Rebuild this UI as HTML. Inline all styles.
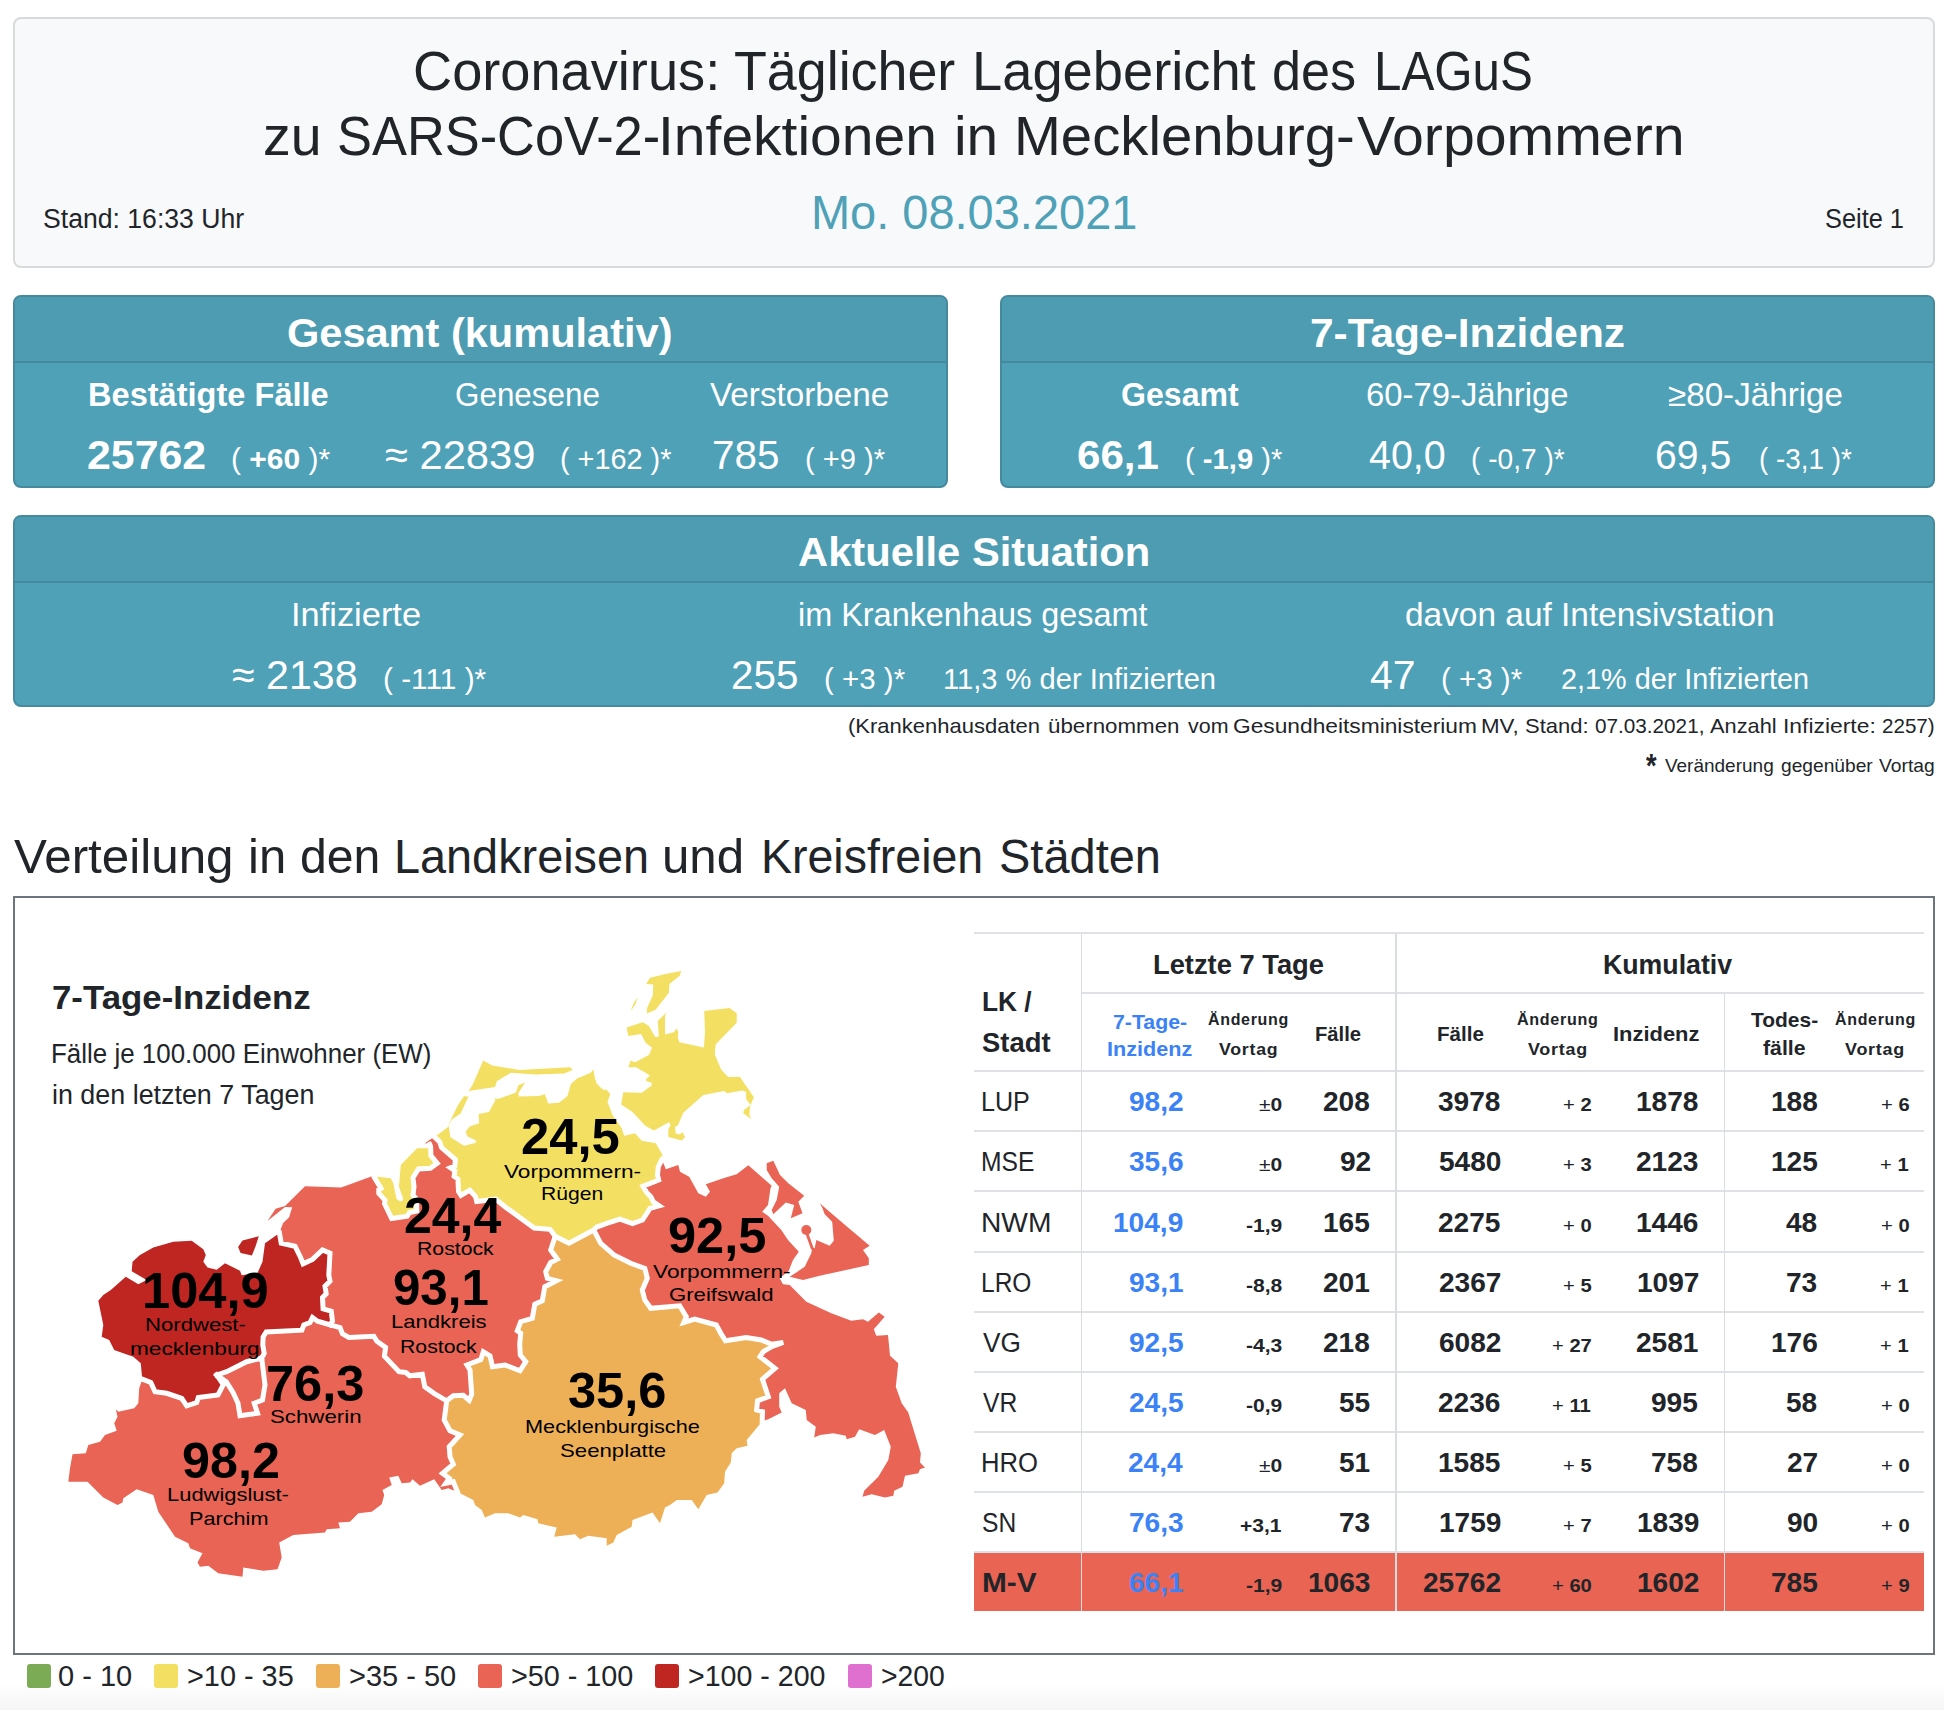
<!DOCTYPE html>
<html lang="de"><head><meta charset="utf-8"><title>Coronavirus: Täglicher Lagebericht des LAGuS</title>
<style>
html,body{margin:0;padding:0}
body{width:1944px;height:1710px;position:relative;overflow:hidden;background:#fff;font-family:"Liberation Sans", sans-serif;color:#212529}
.t{position:absolute;white-space:nowrap;line-height:1;transform-origin:0 0}
.abs{position:absolute;box-sizing:border-box}
.map{position:absolute;left:40px;top:940px}
.map text{font-family:"Liberation Sans", sans-serif;fill:#000}

.hdr{left:13px;top:17px;width:1921.5px;height:250.5px;background:#f8f9fa;border:2px solid #d9dadc;border-radius:8px}
.pan{background:#4fa1b7;border:2px solid #44899c;border-radius:8px;height:192.5px;overflow:hidden}
.pan i{display:block;height:64px;background:#4d9cb1;border-bottom:2px solid #44899c}
.mapbox{left:13px;top:895.5px;width:1921.5px;height:759px;border:2px solid #6c757d;background:#fff}
.hl{position:absolute;height:2px;background:#dee2e6}
.vl{position:absolute;width:1.5px;background:#d9dce0}
.sq{position:absolute;width:24px;height:24px;top:1664px;border-radius:3px}
.mv{position:absolute;left:973.7px;top:1553px;width:950.3px;height:57.5px;background:#e96453}
.fade{position:absolute;left:0;top:1684px;width:1944px;height:26px;background:linear-gradient(#fff,#f5f5f5)}

</style></head><body>
<div class="fade"></div>
<div class="abs hdr"></div>
<div class="abs pan" style="left:13px;top:295px;width:935px"><i></i></div>
<div class="abs pan" style="left:999.5px;top:295px;width:935px"><i></i></div>
<div class="abs pan" style="left:13px;top:514.7px;width:1921.5px"><i></i></div>
<div class="abs mapbox"></div>
<div class="mv"></div>
<div class="hl" style="left:973.7px;top:932px;width:950.3px"></div>
<div class="hl" style="left:1081px;top:992px;width:843px"></div>
<div class="hl" style="left:973.7px;top:1070.2px;width:950.3px"></div>
<div class="hl" style="left:973.7px;top:1130.3px;width:950.3px"></div>
<div class="hl" style="left:973.7px;top:1190.4px;width:950.3px"></div>
<div class="hl" style="left:973.7px;top:1250.5px;width:950.3px"></div>
<div class="hl" style="left:973.7px;top:1310.6px;width:950.3px"></div>
<div class="hl" style="left:973.7px;top:1370.7px;width:950.3px"></div>
<div class="hl" style="left:973.7px;top:1430.8px;width:950.3px"></div>
<div class="hl" style="left:973.7px;top:1490.9px;width:950.3px"></div>
<div class="hl" style="left:973.7px;top:1551.0px;width:950.3px"></div>
<div class="vl" style="left:1080.5px;top:934px;height:676.5px"></div>
<div class="vl" style="left:1395px;top:934px;height:676.5px"></div>
<div class="vl" style="left:1723.5px;top:994px;height:616.5px"></div>
<div class="sq" style="left:27px;background:#7bab55"></div>
<div class="sq" style="left:154px;background:#f3e062"></div>
<div class="sq" style="left:316px;background:#eeb057"></div>
<div class="sq" style="left:478px;background:#e96454"></div>
<div class="sq" style="left:655px;background:#bf2622"></div>
<div class="sq" style="left:847.5px;background:#e070d0"></div>
<svg class="map" width="920" height="680" viewBox="40 940 920 680">
<path fill="#e96454" d="M142.2,1379.7 139.2,1388.3 138.3,1403.3 134.2,1408.3 118.3,1411.7 115.8,1409.2 117.5,1416.7 114.2,1423.3 116.7,1430.8 105,1435 100,1441.7 88.3,1445 85.8,1453.3 72.5,1454.2 70,1468.3 68.3,1481.7 87.5,1481.7 103.3,1497.5 117.5,1505 122.5,1502.5 123.3,1498.3 136.7,1489.2 153.3,1495 158.3,1511.7 175,1536.7 188.3,1543.3 190,1548.3 202.5,1553.3 197.5,1562.5 200,1566.7 208.3,1565.8 218.3,1573.3 242.5,1576.7 243.3,1567.5 263.3,1570.8 277.5,1569.2 281.7,1557.5 279.2,1542.5 293.3,1535 325,1532.5 326.7,1529.2 340,1528.3 338.3,1522.5 350,1521.7 358.3,1513.3 371.7,1511.7 381.7,1504.2 384.2,1495 382.5,1490 391.7,1485 389.2,1477.5 398.3,1475.8 401.7,1483.3 410,1482.5 412.5,1479.2 420,1485.8 434.2,1479.2 441.7,1490 448.3,1488.3 457.5,1492 453.3,1481.7 445.8,1483.3 449.2,1478.3 442.5,1473.3 453.3,1464.2 450,1456.7 449.2,1446.7 460,1435 450,1430.8 444.2,1420 446.7,1400.8 434,1393.3 424.8,1386.7 422.3,1374.2 409.8,1375.8 405.7,1372.5 399,1371.7 384.4,1356.2 385.6,1347.5 376.9,1341.2 373.8,1336.2 348.8,1337.5 342.5,1333.8 340,1327.5 330,1324.8 317.5,1321.2 312.5,1317.5 310,1322.5 303.8,1325 301.9,1330.2 266.2,1331.9 263.1,1336.9 262.8,1345 264.2,1353.3 261.7,1358 265,1385 262.5,1400 254.2,1403.3 257.5,1413.3 240,1415.8 238,1403.3 233,1392.5 226.3,1381.7 216.7,1375 223.3,1384.7 218,1395 198.3,1397.5 196.7,1402.5 186.7,1405.8 181.7,1398.3 166.7,1393.3 155,1391.7 150.8,1382.5 142.2,1379.2Z"/>
<path fill="#bf2622" d="M142.2,1379.2 140.8,1363.3 133.3,1356.7 123.3,1353.3 114.2,1350 109.2,1340 101.7,1336.7 103.3,1325 98.3,1300.8 103.3,1295 110.8,1290 125.8,1276.7 138.3,1284.2 146.7,1280 131.7,1271.3 132.5,1261.7 140,1255 153.3,1247.5 173.3,1241.7 191.7,1240.8 203.3,1249.2 205.8,1255 203.3,1261.7 207.5,1267.5 216.7,1269.7 225,1263.3 240,1270.8 241.7,1275.3 257.5,1273 262.5,1261.7 265,1243.3 276.7,1235 279.4,1232.8 281.2,1243.1 295,1246.2 300.6,1257.5 303.1,1263.8 312.5,1259.4 322.5,1250 330,1253.1 328.8,1275 330,1281.2 325,1286.2 326.2,1293.8 322.5,1297.5 323.1,1308.8 331.2,1311.2 332.5,1321.2 330,1324.8 317.5,1321.2 312.5,1317.5 310,1322.5 303.8,1325 301.9,1330.2 266.2,1331.9 263.1,1336.9 262.8,1345 264.2,1353.3 261.7,1358 246.7,1361.7 226.7,1371.7 216.7,1375 223.3,1384.7 218,1395 198.3,1397.5 196.7,1402.5 186.7,1405.8 181.7,1398.3 166.7,1393.3 155,1391.7 150.8,1382.5 142.2,1379.2Z M238.1,1246.9 242.5,1240.6 258.8,1236.2 255.6,1246.2 251.9,1255.6 240.6,1253.1Z"/>
<path fill="#e96454" d="M261.7,1358 246.7,1361.7 226.7,1371.7 216.7,1375 226.3,1381.7 233,1392.5 238,1403.3 240,1415.8 257.5,1413.3 254.2,1403.3 262.5,1400 265,1385 261.7,1358Z"/>
<path fill="#e96454" d="M279.4,1232.8 281.2,1243.1 295,1246.2 300.6,1257.5 303.1,1263.8 312.5,1259.4 322.5,1250 330,1253.1 328.8,1275 330,1281.2 325,1286.2 326.2,1293.8 322.5,1297.5 323.1,1308.8 331.2,1311.2 332.5,1321.2 330,1324.8 340,1327.5 342.5,1333.8 348.8,1337.5 373.8,1336.2 376.9,1341.2 385.6,1347.5 384.4,1356.2 399,1371.7 405.7,1372.5 409.8,1375.8 422.3,1374.2 424.8,1386.7 434,1393.3 446.7,1400.8 453.3,1395.8 463.3,1395.3 469.2,1400.3 471.7,1394.2 470,1370 467,1365 480.8,1359.7 483.3,1351.7 490,1355.8 492.5,1366.7 505,1365 520,1370.8 525.8,1361.7 520.3,1355 519.7,1344.2 520.7,1333.3 517.3,1330.8 520.7,1321.7 532.3,1318.3 534.8,1304.2 542.3,1300.8 544.8,1286.7 556.5,1280.8 547.3,1278.3 545.7,1271.7 550.7,1262.5 557.3,1259.2 550.7,1250 555.2,1236.3 550,1229.3 534.2,1228 505.3,1207 495.8,1199.2 476.7,1201.5 475.5,1196.5 469.8,1190.2 461,1195.3 458.5,1191.5 457.9,1179 454.1,1176.4 454.8,1170.8 450.4,1167.7 454.8,1165.8 455.4,1159.5 441.6,1147.6 439.7,1141.9 434.4,1136.9 430.9,1138.9 425,1143.2 429.7,1144.4 430.6,1146.3 430.9,1155.7 437.2,1163.3 430.3,1168.3 418.4,1168.9 413,1177.7 414,1186.5 413,1195.3 416.5,1199 416.8,1211 409.6,1212.5 407.1,1216.3 391.7,1218.5 384.5,1203.7 385.1,1200.3 378.8,1193.4 378.8,1189.6 381,1188.4 374.7,1178 371.3,1176.4 341.2,1187.5 305,1186.2 285,1206 275.6,1208.8 267.5,1221 285,1206.9 292.2,1207.2 289,1217.5 283.1,1223.1 279.4,1232.8Z"/>
<path fill="#f3e062" d="M429.7,1144.4 430.6,1146.3 430.9,1155.7 437.2,1163.3 430.3,1168.3 418.4,1168.9 413,1177.7 414,1186.5 413,1195.3 416.5,1199 416.8,1211 409.6,1212.5 407.1,1216.3 391.7,1218.5 384.5,1203.7 385.1,1200.3 378.8,1193.4 378.8,1189.6 381,1188.4 374.7,1178 377.9,1176.8 390.8,1178.3 393.3,1183.3 396.4,1198.4 398.3,1200.6 402,1201.5 403.3,1199 398.9,1186.5 400.8,1165.1 417.1,1148.2 428.1,1148.2 429.7,1144.4Z"/>
<path fill="#eeb057" d="M555.2,1236.3 569,1243.3 593.7,1230 600.7,1243.3 614,1255 630.7,1263.3 644.8,1268.3 647.3,1278.3 642.3,1290 644.8,1300 650.7,1308.3 679.7,1305.8 686.3,1316.7 683.8,1322.5 694.7,1319.2 716.3,1325 721.3,1334.2 725.5,1340.8 746.3,1337.5 761.3,1340 771.7,1344.2 783.3,1342.5 771.7,1346.7 763.3,1351.7 760,1356.7 775,1368.3 762.5,1379.2 768.3,1396.7 757.5,1400.8 756.7,1410 762.5,1411.7 762.2,1421.2 746.7,1440 747.5,1445.8 736.7,1448.3 731.7,1453.3 730.8,1462.5 725,1471.7 724.2,1483.3 717.5,1492.5 706.7,1495 698.3,1509.2 691.7,1500 676.7,1500 670,1505 665,1507.5 660,1523.3 652.5,1512.5 632.5,1520 631.7,1526.7 616.7,1535 613.3,1542.5 606.7,1545.8 606.7,1538.3 588.3,1535.8 580,1539.2 575,1534.2 554.2,1536.7 556.7,1527.5 538.3,1523.3 537.5,1519.2 523.3,1515 520,1517.5 508.3,1513.3 495,1513.3 485,1517.5 481.7,1510 475,1505 473.3,1500 457.5,1492 453.3,1481.7 445.8,1483.3 449.2,1478.3 442.5,1473.3 453.3,1464.2 450,1456.7 449.2,1446.7 460,1435 450,1430.8 444.2,1420 446.7,1400.8 453.3,1395.8 463.3,1395.3 469.2,1400.3 471.7,1394.2 470,1370 467,1365 480.8,1359.7 483.3,1351.7 490,1355.8 492.5,1366.7 505,1365 520,1370.8 525.8,1361.7 520.3,1355 519.7,1344.2 520.7,1333.3 517.3,1330.8 520.7,1321.7 532.3,1318.3 534.8,1304.2 542.3,1300.8 544.8,1286.7 556.5,1280.8 547.3,1278.3 545.7,1271.7 550.7,1262.5 557.3,1259.2 550.7,1250 555.2,1236.3Z"/>
<path fill="#f3e062" d="M434.4,1136.9 439.7,1141.9 441.6,1147.6 455.4,1159.5 454.8,1165.8 450.4,1167.7 454.8,1170.8 454.1,1176.4 457.9,1179 458.5,1191.5 461,1195.3 469.8,1190.2 475.5,1196.5 476.7,1201.5 495.8,1199.2 505.3,1207 534.2,1228 550,1229.3 555.2,1236.3 569,1243.3 593.7,1230 596.5,1227.2 606.7,1223.3 620,1219.2 632.5,1223.7 642.5,1220 650,1208.3 659.2,1205.8 653.3,1201.7 650.8,1196.7 646.7,1192.5 643,1186.3 658.7,1180 657.5,1175 658.3,1166.7 662,1159.5 662.5,1155 655.8,1143.3 641.7,1140.8 635,1133.3 624.2,1135.8 621.7,1128.3 612.5,1115 607.5,1101.7 610.3,1094.2 606.7,1089.7 603.2,1089.8 596.9,1084.1 594.7,1077.3 593.5,1069.4 590.7,1072.8 577.1,1078.5 570.9,1084.1 567.5,1096 559,1102.8 548.3,1103.4 544.9,1094.3 538.6,1096 518.8,1096.6 518.3,1093.2 525.1,1082.4 518.3,1085.3 516,1092.6 497.9,1098.9 493.9,1098.3 495.6,1100 488.9,1111.9 478.7,1114.1 479.2,1123.2 469.6,1126.6 465.6,1131.7 467.3,1136.2 476.4,1140.7 475.3,1143 464,1145.8 450.4,1137.3 448.7,1126 451.5,1119.8 460.6,1113.6 468.5,1096.6 464,1096.2 458.3,1104.5 450.9,1119.2 448.1,1127.1 437.4,1135.1 434.4,1136.9Z M468.5,1090.9 495.1,1087 496.8,1081.3 510.9,1072.8 535.3,1074.5 564.1,1073.4 572.6,1070 570.3,1067.2 519.4,1070 492.2,1065.5 483.2,1060.4 472.4,1085.3Z M666.9,1012 665,1015.6 665,1034.4 673.9,1032.2 676.7,1028.3 678.3,1032.2 677.8,1037.8 679.4,1042.2 703.9,1047.6 705,1032.2 704.2,1011.1 729.4,1008 736.7,1013.3 736.7,1022.8 715.6,1044.4 714.8,1054.4 721.1,1069.4 728.3,1076.9 740,1076.9 753.9,1097.2 750.6,1105 746.1,1098.9 746.1,1091.7 742.2,1090.6 727.2,1093.3 723.9,1091.1 703.3,1095 683.3,1112.8 677.8,1125.6 675,1126.7 675.6,1133.3 679.4,1134.4 682.8,1132.2 685,1137.2 681.7,1140.6 668.3,1136.9 668.3,1129.4 670.6,1125 668.9,1122.2 653.9,1130.6 645.6,1126.1 632.2,1111.7 621.1,1104.4 623.3,1092.2 641.7,1092.8 651.7,1085.6 651.7,1082.8 646.1,1081.1 646.1,1078.9 650,1075.6 636.1,1067.2 628.3,1067.2 630.6,1060.6 635,1062.2 648.9,1055 652,1047.8 645.6,1042.8 641.1,1033.9 628.3,1036.1 626.7,1027.6 642.8,1022.2 648.9,1026.1 655,1036.7 658.9,1036.7 657.8,1021.1Z M681.1,971.1 665.6,973.9 650,977.8 646.1,983.9 653.3,984.4 652.8,995.6 647.2,1007.8 646.9,1013.6 655.6,1009.8 668.9,992.8 669.4,983.9 680,975.6Z M750.6,1105 743.9,1110 743.3,1113.3 751.1,1118.9 749.4,1114.4 750,1106.7Z M637.6,997.2 635.3,1004.4 630.6,1010.9 633.9,1002.8Z"/>
<path fill="#e96454" d="M662,1159.5 658.3,1166.7 657.5,1175 658.7,1180 643,1186.3 646.7,1192.5 650.8,1196.7 653.3,1201.7 659.2,1205.8 650,1208.3 642.5,1220 632.5,1223.7 620,1219.2 606.7,1223.3 596.5,1227.2 593.7,1230 600.7,1243.3 614,1255 630.7,1263.3 644.8,1268.3 647.3,1278.3 642.3,1290 644.8,1300 650.7,1308.3 679.7,1305.8 686.3,1316.7 683.8,1322.5 694.7,1319.2 716.3,1325 721.3,1334.2 725.5,1340.8 746.3,1337.5 761.3,1340 771.7,1344.2 783.3,1342.5 771.7,1346.7 763.3,1351.7 760,1356.7 775,1368.3 762.5,1379.2 768.3,1396.7 757.5,1400.8 756.7,1410 762.5,1411.7 762.2,1421.2 768.3,1419.2 781.7,1412.5 779.2,1406.7 779.2,1393.3 785,1388.3 791.7,1403.3 805.8,1410 806.7,1420 815.8,1426.7 814.2,1437.5 820,1435 833.3,1433.3 845.8,1435.8 846.7,1439.2 855,1436.7 859.2,1429.2 875,1435 884.2,1430 890.8,1446.7 888.3,1460 878.3,1476.7 864.2,1490.8 862.5,1496.7 871.7,1494.2 885,1497.5 893.3,1495.8 894.2,1490.8 902.5,1486.7 905,1475.8 918.3,1473.3 920,1469.2 925,1467.5 920,1462.5 920.8,1453.3 910,1418.3 908.3,1412.5 901.7,1403.3 895.8,1386.7 898.3,1363.3 890,1355.8 888,1335 876.3,1335.8 873.8,1329.2 884.7,1316.7 878.8,1312.5 868,1321.7 863,1319.2 851.3,1320.8 831.3,1313.3 806.3,1301.7 789.7,1285 783,1284.2 779.7,1278.3 788.8,1270.8 793,1260 798.8,1251.7 788,1240 781.3,1230 768,1215.8 762.2,1211.7 768,1205 770.5,1188.3 771.7,1185.8 748.3,1165.3 736.7,1174.2 723.3,1178.3 705.8,1184.2 710,1191.7 705.8,1196.7 698.3,1193.3 689.2,1176.7 680,1171.7 678.3,1165 665.8,1169.2 662,1159.5Z M766.7,1163.3 773.3,1160.8 780,1175 788.3,1183.3 804.2,1195.8 798.3,1201.7 802.5,1213.3 790.8,1218.3 794.2,1205 785.8,1202.5 773.3,1214.2 771.7,1210 776.7,1200 779.2,1186.7 771.7,1178.3 766.7,1170Z M819.7,1203.3 831.3,1213.3 848,1227.5 869.7,1245.8 863,1250 868.8,1258.3 868.8,1265 819.7,1275.8 803,1280 789.7,1276.7 796.3,1272.5 804.7,1266.7 811.3,1253.3 812.2,1247.5 814.7,1248.3 816.3,1240 829.7,1245.8 833.8,1240.8 832.2,1221.7 824.7,1214.2 822.2,1207.5Z"/>
<path fill="none" stroke="#e96454" stroke-width="2.8" stroke-linecap="round" d="M812.2,1248.3 807.7,1235.8 806.3,1230"/>
<circle cx="806.3" cy="1230" r="5" fill="#e96454"/>
<path fill="none" stroke="#fff" stroke-width="5" stroke-linejoin="miter" stroke-linecap="square" d="M279.4,1232.8 281.2,1243.1 295,1246.2 300.6,1257.5 303.1,1263.8 312.5,1259.4 322.5,1250 330,1253.1 328.8,1275 330,1281.2 325,1286.2 326.2,1293.8 322.5,1297.5 323.1,1308.8 331.2,1311.2 332.5,1321.2 330,1324.8 M330,1324.8 317.5,1321.2 312.5,1317.5 310,1322.5 303.8,1325 301.9,1330.2 266.2,1331.9 263.1,1336.9 262.8,1345 264.2,1353.3 261.7,1358 M261.7,1358 246.7,1361.7 226.7,1371.7 216.7,1375 M216.7,1375 223.3,1384.7 218,1395 198.3,1397.5 196.7,1402.5 186.7,1405.8 181.7,1398.3 166.7,1393.3 155,1391.7 150.8,1382.5 142.2,1379.2 M261.7,1358 265,1385 262.5,1400 254.2,1403.3 257.5,1413.3 240,1415.8 238,1403.3 233,1392.5 226.3,1381.7 216.7,1375 M330,1324.8 340,1327.5 342.5,1333.8 348.8,1337.5 373.8,1336.2 376.9,1341.2 385.6,1347.5 384.4,1356.2 399,1371.7 405.7,1372.5 409.8,1375.8 422.3,1374.2 424.8,1386.7 434,1393.3 446.7,1400.8 M446.7,1400.8 453.3,1395.8 463.3,1395.3 469.2,1400.3 471.7,1394.2 470,1370 467,1365 480.8,1359.7 483.3,1351.7 490,1355.8 492.5,1366.7 505,1365 520,1370.8 525.8,1361.7 520.3,1355 519.7,1344.2 520.7,1333.3 517.3,1330.8 520.7,1321.7 532.3,1318.3 534.8,1304.2 542.3,1300.8 544.8,1286.7 556.5,1280.8 547.3,1278.3 545.7,1271.7 550.7,1262.5 557.3,1259.2 550.7,1250 555.2,1236.3 M434.4,1136.9 439.7,1141.9 441.6,1147.6 455.4,1159.5 454.8,1165.8 450.4,1167.7 454.8,1170.8 454.1,1176.4 457.9,1179 458.5,1191.5 461,1195.3 469.8,1190.2 475.5,1196.5 476.7,1201.5 495.8,1199.2 505.3,1207 534.2,1228 550,1229.3 555.2,1236.3 M555.2,1236.3 569,1243.3 593.7,1230 M593.7,1230 596.5,1227.2 606.7,1223.3 620,1219.2 632.5,1223.7 642.5,1220 650,1208.3 659.2,1205.8 653.3,1201.7 650.8,1196.7 646.7,1192.5 643,1186.3 658.7,1180 657.5,1175 658.3,1166.7 662,1159.5 M593.7,1230 600.7,1243.3 614,1255 630.7,1263.3 644.8,1268.3 647.3,1278.3 642.3,1290 644.8,1300 650.7,1308.3 679.7,1305.8 686.3,1316.7 683.8,1322.5 694.7,1319.2 716.3,1325 721.3,1334.2 725.5,1340.8 746.3,1337.5 761.3,1340 771.7,1344.2 783.3,1342.5 771.7,1346.7 763.3,1351.7 760,1356.7 775,1368.3 762.5,1379.2 768.3,1396.7 757.5,1400.8 756.7,1410 762.5,1411.7 762.2,1421.2 M457.5,1492 453.3,1481.7 445.8,1483.3 449.2,1478.3 442.5,1473.3 453.3,1464.2 450,1456.7 449.2,1446.7 460,1435 450,1430.8 444.2,1420 446.7,1400.8 M429.7,1144.4 430.6,1146.3 430.9,1155.7 437.2,1163.3 430.3,1168.3 418.4,1168.9 413,1177.7 414,1186.5 413,1195.3 416.5,1199 416.8,1211 409.6,1212.5 407.1,1216.3 391.7,1218.5 384.5,1203.7 385.1,1200.3 378.8,1193.4 378.8,1189.6 381,1188.4 374.7,1178"/>
</svg>
<span class="t" style="left:412.60px;top:43.00px;font-size:56px;font-weight:400;transform:scaleX(0.9677);">Coronavirus:</span>
<span class="t" style="left:734.04px;top:43.00px;font-size:56px;font-weight:400;transform:scaleX(0.9607);">Täglicher</span>
<span class="t" style="left:972.32px;top:43.00px;font-size:56px;font-weight:400;transform:scaleX(0.9694);">Lagebericht</span>
<span class="t" style="left:1272.34px;top:43.00px;font-size:56px;font-weight:400;transform:scaleX(0.9310);">des</span>
<span class="t" style="left:1373.88px;top:43.00px;font-size:56px;font-weight:400;transform:scaleX(0.8799);">LAGuS</span>
<span class="t" style="left:263.02px;top:108.00px;font-size:56px;font-weight:400;transform:scaleX(0.9907);">zu</span>
<span class="t" style="left:336.63px;top:108.00px;font-size:56px;font-weight:400;transform:scaleX(0.9355);">SARS-CoV-2-</span>
<span class="t" style="left:657.91px;top:108.00px;font-size:56px;font-weight:400;transform:scaleX(1.0180);">Infektionen</span>
<span class="t" style="left:953.96px;top:108.00px;font-size:56px;font-weight:400;transform:scaleX(1.0135);">in</span>
<span class="t" style="left:1013.98px;top:108.00px;font-size:56px;font-weight:400;transform:scaleX(1.0045);">Mecklenburg-</span>
<span class="t" style="left:1356.60px;top:108.00px;font-size:56px;font-weight:400;transform:scaleX(1.0218);">Vorpommern</span>
<span class="t" style="left:810.63px;top:188.00px;font-size:48.5px;font-weight:400;color:#4fa1b7;transform:scaleX(0.9683);">Mo. 08.03.2021</span>
<span class="t" style="left:42.71px;top:205.50px;font-size:27px;font-weight:400;transform:scaleX(0.9852);">Stand: 16:33 Uhr</span>
<span class="t" style="left:1825.06px;top:205.50px;font-size:27px;font-weight:400;transform:scaleX(0.9390);">Seite 1</span>
<span class="t" style="left:287.49px;top:312.50px;font-size:41px;font-weight:700;color:#fff;transform:scaleX(1.0132);">Gesamt (kumulativ)</span>
<span class="t" style="left:88.00px;top:379.00px;font-size:32.5px;font-weight:700;color:#fff;transform:scaleX(1.0021);">Bestätigte Fälle</span>
<span class="t" style="left:455.03px;top:379.00px;font-size:32.5px;font-weight:400;color:#fff;transform:scaleX(0.9662);">Genesene</span>
<span class="t" style="left:710.00px;top:379.00px;font-size:32.5px;font-weight:400;color:#fff;transform:scaleX(1.0230);">Verstorbene</span>
<span class="t" style="left:86.96px;top:435.00px;font-size:41px;font-weight:700;color:#fff;transform:scaleX(1.0446);">25762</span>
<span class="t" style="left:231.48px;top:444.00px;font-size:29.5px;font-weight:400;color:#fff;transform:scaleX(1.0156);">( <b>+60</b> )*</span>
<span class="t" style="left:385.48px;top:435.00px;font-size:41px;font-weight:400;color:#fff;transform:scaleX(1.0172);">≈ 22839</span>
<span class="t" style="left:560.02px;top:444.00px;font-size:29.5px;font-weight:400;color:#fff;transform:scaleX(0.9779);">( +162 )*</span>
<span class="t" style="left:712.03px;top:435.00px;font-size:41px;font-weight:400;color:#fff;transform:scaleX(0.9846);">785</span>
<span class="t" style="left:805.01px;top:444.00px;font-size:29.5px;font-weight:400;color:#fff;transform:scaleX(0.9875);">( +9 )*</span>
<span class="t" style="left:1309.97px;top:312.50px;font-size:41px;font-weight:700;color:#fff;transform:scaleX(1.0347);">7-Tage-Inzidenz</span>
<span class="t" style="left:1120.51px;top:379.00px;font-size:32.5px;font-weight:700;color:#fff;transform:scaleX(0.9873);">Gesamt</span>
<span class="t" style="left:1365.99px;top:379.00px;font-size:32.5px;font-weight:400;color:#fff;transform:scaleX(1.0101);">60-79-Jährige</span>
<span class="t" style="left:1668.48px;top:379.00px;font-size:32.5px;font-weight:400;color:#fff;transform:scaleX(1.0207);">≥80-Jährige</span>
<span class="t" style="left:1076.97px;top:435.00px;font-size:41px;font-weight:700;color:#fff;transform:scaleX(1.0256);">66,1</span>
<span class="t" style="left:1185.01px;top:444.00px;font-size:29.5px;font-weight:400;color:#fff;transform:scaleX(0.9897);">( <b>-1,9</b> )*</span>
<span class="t" style="left:1368.54px;top:435.00px;font-size:41px;font-weight:400;color:#fff;transform:scaleX(0.9615);">40,0</span>
<span class="t" style="left:1471.05px;top:444.00px;font-size:29.5px;font-weight:400;color:#fff;transform:scaleX(0.9536);">( -0,7 )*</span>
<span class="t" style="left:1655.09px;top:435.00px;font-size:41px;font-weight:400;color:#fff;transform:scaleX(0.9545);">69,5</span>
<span class="t" style="left:1758.56px;top:444.00px;font-size:29.5px;font-weight:400;color:#fff;transform:scaleX(0.9433);">( -3,1 )*</span>
<span class="t" style="left:797.98px;top:532.20px;font-size:41px;font-weight:700;color:#fff;transform:scaleX(1.0175);">Aktuelle Situation</span>
<span class="t" style="left:290.82px;top:598.70px;font-size:32.5px;font-weight:400;color:#fff;transform:scaleX(1.0588);">Infizierte</span>
<span class="t" style="left:798.01px;top:598.70px;font-size:32.5px;font-weight:400;color:#fff;transform:scaleX(0.9971);">im Krankenhaus gesamt</span>
<span class="t" style="left:1404.97px;top:598.70px;font-size:32.5px;font-weight:400;color:#fff;transform:scaleX(1.0280);">davon auf Intensivstation</span>
<span class="t" style="left:231.50px;top:654.70px;font-size:41px;font-weight:400;color:#fff;transform:scaleX(1.0041);">≈ 2138</span>
<span class="t" style="left:382.99px;top:663.70px;font-size:29.5px;font-weight:400;color:#fff;transform:scaleX(1.0099);">( -111 )*</span>
<span class="t" style="left:731.03px;top:654.70px;font-size:41px;font-weight:400;color:#fff;transform:scaleX(0.9846);">255</span>
<span class="t" style="left:824.00px;top:663.70px;font-size:29.5px;font-weight:400;color:#fff;transform:scaleX(1.0000);">( +3 )*</span>
<span class="t" style="left:943.03px;top:663.70px;font-size:29.5px;font-weight:400;color:#fff;transform:scaleX(0.9872);">11,3 % der Infizierten</span>
<span class="t" style="left:1370.00px;top:654.70px;font-size:41px;font-weight:400;color:#fff;transform:scaleX(1.0000);">47</span>
<span class="t" style="left:1441.00px;top:663.70px;font-size:29.5px;font-weight:400;color:#fff;transform:scaleX(1.0000);">( +3 )*</span>
<span class="t" style="left:1561.02px;top:663.70px;font-size:29.5px;font-weight:400;color:#fff;transform:scaleX(0.9762);">2,1% der Infizierten</span>
<span class="t" style="left:848.15px;top:715.40px;font-size:21px;font-weight:400;transform:scaleX(1.0475);">(Krankenhausdaten</span>
<span class="t" style="left:1047.84px;top:715.40px;font-size:21px;font-weight:400;transform:scaleX(1.0623);">übernommen</span>
<span class="t" style="left:1187.70px;top:715.40px;font-size:21px;font-weight:400;transform:scaleX(1.0205);">vom</span>
<span class="t" style="left:1233.02px;top:715.40px;font-size:21px;font-weight:400;transform:scaleX(1.0830);">Gesundheitsministerium</span>
<span class="t" style="left:1480.94px;top:715.40px;font-size:21px;font-weight:400;transform:scaleX(1.0636);">MV,</span>
<span class="t" style="left:1524.65px;top:715.40px;font-size:21px;font-weight:400;transform:scaleX(1.0483);">Stand:</span>
<span class="t" style="left:1594.90px;top:715.40px;font-size:21px;font-weight:400;transform:scaleX(0.9862);">07.03.2021,</span>
<span class="t" style="left:1710.40px;top:715.40px;font-size:21px;font-weight:400;transform:scaleX(1.0381);">Anzahl</span>
<span class="t" style="left:1783.12px;top:715.40px;font-size:21px;font-weight:400;transform:scaleX(1.0890);">Infizierte:</span>
<span class="t" style="left:1882.32px;top:715.40px;font-size:21px;font-weight:400;transform:scaleX(0.9808);">2257)</span>
<span class="t" style="left:1645.60px;top:749.40px;font-size:33px;font-weight:700;transform:scaleX(0.8231);">*</span>
<span class="t" style="left:1664.90px;top:756.00px;font-size:19px;font-weight:400;transform:scaleX(1.0000);">Veränderung</span>
<span class="t" style="left:1781.00px;top:756.00px;font-size:19px;font-weight:400;transform:scaleX(1.0099);">gegenüber</span>
<span class="t" style="left:1879.00px;top:756.00px;font-size:19px;font-weight:400;transform:scaleX(1.0130);">Vortag</span>
<span class="t" style="left:13.90px;top:833.00px;font-size:48px;font-weight:400;transform:scaleX(1.0284);">Verteilung</span>
<span class="t" style="left:247.53px;top:833.00px;font-size:48px;font-weight:400;transform:scaleX(1.0219);">in</span>
<span class="t" style="left:299.89px;top:833.00px;font-size:48px;font-weight:400;transform:scaleX(1.0026);">den</span>
<span class="t" style="left:394.10px;top:833.00px;font-size:48px;font-weight:400;transform:scaleX(0.9753);">Landkreisen</span>
<span class="t" style="left:662.12px;top:833.00px;font-size:48px;font-weight:400;transform:scaleX(1.0253);">und</span>
<span class="t" style="left:760.93px;top:833.00px;font-size:48px;font-weight:400;transform:scaleX(0.9686);">Kreisfreien</span>
<span class="t" style="left:999.44px;top:833.00px;font-size:48px;font-weight:400;transform:scaleX(0.9789);">Städten</span>
<span class="t" style="left:51.54px;top:981.00px;font-size:33px;font-weight:700;transform:scaleX(1.0551);">7-Tage-Inzidenz</span>
<span class="t" style="left:50.68px;top:1040.70px;font-size:27px;font-weight:400;transform:scaleX(0.9603);">Fälle je 100.000 Einwohner (EW)</span>
<span class="t" style="left:51.60px;top:1082.20px;font-size:27px;font-weight:400;transform:scaleX(0.9950);">in den letzten 7 Tagen</span>
<span class="t" style="left:521.48px;top:1112.30px;font-size:50px;font-weight:700;color:#000;transform:scaleX(1.0158);">24,5</span>
<span class="t" style="left:404.00px;top:1191.30px;font-size:50px;font-weight:700;color:#000;transform:scaleX(1.0000);">24,4</span>
<span class="t" style="left:667.99px;top:1211.30px;font-size:50px;font-weight:700;color:#000;transform:scaleX(1.0105);">92,5</span>
<span class="t" style="left:141.96px;top:1266.30px;font-size:50px;font-weight:700;color:#000;transform:scaleX(1.0124);">104,9</span>
<span class="t" style="left:393.02px;top:1262.80px;font-size:50px;font-weight:700;color:#000;transform:scaleX(0.9842);">93,1</span>
<span class="t" style="left:266.48px;top:1358.80px;font-size:50px;font-weight:700;color:#000;transform:scaleX(1.0106);">76,3</span>
<span class="t" style="left:567.99px;top:1366.30px;font-size:50px;font-weight:700;color:#000;transform:scaleX(1.0105);">35,6</span>
<span class="t" style="left:182.49px;top:1436.30px;font-size:50px;font-weight:700;color:#000;transform:scaleX(1.0053);">98,2</span>
<span class="t" style="left:504.00px;top:1161.50px;font-size:19px;font-weight:400;color:#000;transform:scaleX(1.1913);">Vorpommern-</span>
<span class="t" style="left:541.39px;top:1184.00px;font-size:19px;font-weight:400;color:#000;transform:scaleX(1.1111);">Rügen</span>
<span class="t" style="left:416.88px;top:1239.00px;font-size:19px;font-weight:400;color:#000;transform:scaleX(1.1176);">Rostock</span>
<span class="t" style="left:652.50px;top:1261.50px;font-size:19px;font-weight:400;color:#000;transform:scaleX(1.1957);">Vorpommern-</span>
<span class="t" style="left:668.84px;top:1285.00px;font-size:19px;font-weight:400;color:#000;transform:scaleX(1.1648);">Greifswald</span>
<span class="t" style="left:144.84px;top:1315.00px;font-size:19px;font-weight:400;color:#000;transform:scaleX(1.1647);">Nordwest-</span>
<span class="t" style="left:130.31px;top:1339.00px;font-size:19px;font-weight:400;color:#000;transform:scaleX(1.1916);">mecklenburg</span>
<span class="t" style="left:391.34px;top:1311.50px;font-size:19px;font-weight:400;color:#000;transform:scaleX(1.1605);">Landkreis</span>
<span class="t" style="left:400.38px;top:1336.50px;font-size:19px;font-weight:400;color:#000;transform:scaleX(1.1176);">Rostock</span>
<span class="t" style="left:269.83px;top:1406.50px;font-size:19px;font-weight:400;color:#000;transform:scaleX(1.1711);">Schwerin</span>
<span class="t" style="left:525.36px;top:1416.50px;font-size:19px;font-weight:400;color:#000;transform:scaleX(1.1414);">Mecklenburgische</span>
<span class="t" style="left:559.83px;top:1440.50px;font-size:19px;font-weight:400;color:#000;transform:scaleX(1.1685);">Seenplatte</span>
<span class="t" style="left:167.35px;top:1485.00px;font-size:19px;font-weight:400;color:#000;transform:scaleX(1.1538);">Ludwigslust-</span>
<span class="t" style="left:188.86px;top:1509.00px;font-size:19px;font-weight:400;color:#000;transform:scaleX(1.1397);">Parchim</span>
<span class="t" style="left:58.00px;top:1662.00px;font-size:29px;font-weight:400;transform:scaleX(1.0000);">0 - 10</span>
<span class="t" style="left:187.00px;top:1662.00px;font-size:29px;font-weight:400;transform:scaleX(0.9952);">>10 - 35</span>
<span class="t" style="left:349.00px;top:1662.00px;font-size:29px;font-weight:400;transform:scaleX(1.0000);">>35 - 50</span>
<span class="t" style="left:510.51px;top:1662.00px;font-size:29px;font-weight:400;transform:scaleX(0.9918);">>50 - 100</span>
<span class="t" style="left:688.01px;top:1662.00px;font-size:29px;font-weight:400;transform:scaleX(0.9855);">>100 - 200</span>
<span class="t" style="left:880.52px;top:1662.00px;font-size:29px;font-weight:400;transform:scaleX(0.9766);">>200</span>
<span class="t" style="left:982.33px;top:988.80px;font-size:27px;font-weight:700;transform:scaleX(0.9740);">LK /</span>
<span class="t" style="left:981.79px;top:1029.70px;font-size:27px;font-weight:700;transform:scaleX(1.0149);">Stadt</span>
<span class="t" style="left:1153.49px;top:952.00px;font-size:27px;font-weight:700;transform:scaleX(1.0113);">Letzte 7 Tage</span>
<span class="t" style="left:1603.41px;top:952.00px;font-size:27px;font-weight:700;transform:scaleX(0.9892);">Kumulativ</span>
<span class="t" style="left:1113.00px;top:1010.70px;font-size:21px;font-weight:700;color:#3b82f6;transform:scaleX(1.0137);">7-Tage-</span>
<span class="t" style="left:1106.97px;top:1038.30px;font-size:21px;font-weight:700;color:#3b82f6;transform:scaleX(1.0284);">Inzidenz</span>
<span class="t" style="left:1207.80px;top:1011.10px;font-size:16.5px;font-weight:700;letter-spacing:0.7px;transform:scaleX(0.9683);">Änderung</span>
<span class="t" style="left:1219.00px;top:1040.60px;font-size:16.5px;font-weight:700;letter-spacing:0.7px;transform:scaleX(1.0741);">Vortag</span>
<span class="t" style="left:1314.94px;top:1022.60px;font-size:21px;font-weight:700;transform:scaleX(0.9638);">Fälle</span>
<span class="t" style="left:1437.32px;top:1022.60px;font-size:21px;font-weight:700;transform:scaleX(0.9809);">Fälle</span>
<span class="t" style="left:1516.80px;top:1011.10px;font-size:16.5px;font-weight:700;letter-spacing:0.7px;transform:scaleX(0.9756);">Änderung</span>
<span class="t" style="left:1528.00px;top:1040.60px;font-size:16.5px;font-weight:700;letter-spacing:0.7px;transform:scaleX(1.0852);">Vortag</span>
<span class="t" style="left:1613.46px;top:1022.60px;font-size:21px;font-weight:700;transform:scaleX(1.0432);">Inzidenz</span>
<span class="t" style="left:1750.60px;top:1008.80px;font-size:21px;font-weight:700;transform:scaleX(0.9985);">Todes-</span>
<span class="t" style="left:1762.80px;top:1036.50px;font-size:21px;font-weight:700;transform:scaleX(1.0119);">fälle</span>
<span class="t" style="left:1834.70px;top:1011.10px;font-size:16.5px;font-weight:700;letter-spacing:0.7px;transform:scaleX(0.9683);">Änderung</span>
<span class="t" style="left:1845.30px;top:1040.60px;font-size:16.5px;font-weight:700;letter-spacing:0.7px;transform:scaleX(1.0870);">Vortag</span>
<span class="t" style="left:980.94px;top:1089.30px;font-size:27px;font-weight:400;transform:scaleX(0.9300);">LUP</span>
<span class="t" style="left:1128.62px;top:1089.30px;font-size:27px;font-weight:700;color:#3b82f6;transform:scaleX(1.0400);">98,2</span>
<span class="t" style="left:1259.10px;top:1096.30px;font-size:18px;font-weight:700;transform:scaleX(1.1700);"><span style="font-weight:400">±</span>0</span>
<span class="t" style="left:1323.20px;top:1089.30px;font-size:27px;font-weight:700;transform:scaleX(1.0400);">208</span>
<span class="t" style="left:1437.90px;top:1089.30px;font-size:27px;font-weight:700;transform:scaleX(1.0400);">3978</span>
<span class="t" style="left:1563.40px;top:1096.30px;font-size:18px;font-weight:700;transform:scaleX(1.1200);"><span style="font-weight:400">+</span> 2</span>
<span class="t" style="left:1635.60px;top:1089.30px;font-size:27px;font-weight:700;transform:scaleX(1.0400);">1878</span>
<span class="t" style="left:1770.70px;top:1089.30px;font-size:27px;font-weight:700;transform:scaleX(1.0400);">188</span>
<span class="t" style="left:1881.40px;top:1096.30px;font-size:18px;font-weight:700;transform:scaleX(1.1200);"><span style="font-weight:400">+</span> 6</span>
<span class="t" style="left:980.97px;top:1149.40px;font-size:27px;font-weight:400;transform:scaleX(0.9125);">MSE</span>
<span class="t" style="left:1128.62px;top:1149.40px;font-size:27px;font-weight:700;color:#3b82f6;transform:scaleX(1.0400);">35,6</span>
<span class="t" style="left:1259.10px;top:1156.40px;font-size:18px;font-weight:700;transform:scaleX(1.1700);"><span style="font-weight:400">±</span>0</span>
<span class="t" style="left:1339.84px;top:1149.40px;font-size:27px;font-weight:700;transform:scaleX(1.0400);">92</span>
<span class="t" style="left:1438.94px;top:1149.40px;font-size:27px;font-weight:700;transform:scaleX(1.0400);">5480</span>
<span class="t" style="left:1563.40px;top:1156.40px;font-size:18px;font-weight:700;transform:scaleX(1.1200);"><span style="font-weight:400">+</span> 3</span>
<span class="t" style="left:1635.60px;top:1149.40px;font-size:27px;font-weight:700;transform:scaleX(1.0400);">2123</span>
<span class="t" style="left:1770.70px;top:1149.40px;font-size:27px;font-weight:700;transform:scaleX(1.0400);">125</span>
<span class="t" style="left:1880.28px;top:1156.40px;font-size:18px;font-weight:700;transform:scaleX(1.1200);"><span style="font-weight:400">+</span> 1</span>
<span class="t" style="left:980.71px;top:1209.50px;font-size:27px;font-weight:400;transform:scaleX(1.0437);">NWM</span>
<span class="t" style="left:1113.02px;top:1209.50px;font-size:27px;font-weight:700;color:#3b82f6;transform:scaleX(1.0400);">104,9</span>
<span class="t" style="left:1246.23px;top:1216.50px;font-size:18px;font-weight:700;transform:scaleX(1.1700);">-1,9</span>
<span class="t" style="left:1323.20px;top:1209.50px;font-size:27px;font-weight:700;transform:scaleX(1.0400);">165</span>
<span class="t" style="left:1437.90px;top:1209.50px;font-size:27px;font-weight:700;transform:scaleX(1.0400);">2275</span>
<span class="t" style="left:1563.40px;top:1216.50px;font-size:18px;font-weight:700;transform:scaleX(1.1200);"><span style="font-weight:400">+</span> 0</span>
<span class="t" style="left:1635.60px;top:1209.50px;font-size:27px;font-weight:700;transform:scaleX(1.0400);">1446</span>
<span class="t" style="left:1786.30px;top:1209.50px;font-size:27px;font-weight:700;transform:scaleX(1.0400);">48</span>
<span class="t" style="left:1881.40px;top:1216.50px;font-size:18px;font-weight:700;transform:scaleX(1.1200);"><span style="font-weight:400">+</span> 0</span>
<span class="t" style="left:980.98px;top:1269.60px;font-size:27px;font-weight:400;transform:scaleX(0.9075);">LRO</span>
<span class="t" style="left:1128.62px;top:1269.60px;font-size:27px;font-weight:700;color:#3b82f6;transform:scaleX(1.0400);">93,1</span>
<span class="t" style="left:1246.23px;top:1276.60px;font-size:18px;font-weight:700;transform:scaleX(1.1700);">-8,8</span>
<span class="t" style="left:1323.20px;top:1269.60px;font-size:27px;font-weight:700;transform:scaleX(1.0400);">201</span>
<span class="t" style="left:1438.94px;top:1269.60px;font-size:27px;font-weight:700;transform:scaleX(1.0400);">2367</span>
<span class="t" style="left:1563.40px;top:1276.60px;font-size:18px;font-weight:700;transform:scaleX(1.1200);"><span style="font-weight:400">+</span> 5</span>
<span class="t" style="left:1636.64px;top:1269.60px;font-size:27px;font-weight:700;transform:scaleX(1.0400);">1097</span>
<span class="t" style="left:1786.30px;top:1269.60px;font-size:27px;font-weight:700;transform:scaleX(1.0400);">73</span>
<span class="t" style="left:1880.28px;top:1276.60px;font-size:18px;font-weight:700;transform:scaleX(1.1200);"><span style="font-weight:400">+</span> 1</span>
<span class="t" style="left:982.80px;top:1329.70px;font-size:27px;font-weight:400;transform:scaleX(0.9703);">VG</span>
<span class="t" style="left:1128.62px;top:1329.70px;font-size:27px;font-weight:700;color:#3b82f6;transform:scaleX(1.0400);">92,5</span>
<span class="t" style="left:1246.23px;top:1336.70px;font-size:18px;font-weight:700;transform:scaleX(1.1700);">-4,3</span>
<span class="t" style="left:1323.20px;top:1329.70px;font-size:27px;font-weight:700;transform:scaleX(1.0400);">218</span>
<span class="t" style="left:1438.94px;top:1329.70px;font-size:27px;font-weight:700;transform:scaleX(1.0400);">6082</span>
<span class="t" style="left:1552.20px;top:1336.70px;font-size:18px;font-weight:700;transform:scaleX(1.1200);"><span style="font-weight:400">+</span> 27</span>
<span class="t" style="left:1635.60px;top:1329.70px;font-size:27px;font-weight:700;transform:scaleX(1.0400);">2581</span>
<span class="t" style="left:1770.70px;top:1329.70px;font-size:27px;font-weight:700;transform:scaleX(1.0400);">176</span>
<span class="t" style="left:1880.28px;top:1336.70px;font-size:18px;font-weight:700;transform:scaleX(1.1200);"><span style="font-weight:400">+</span> 1</span>
<span class="t" style="left:982.80px;top:1389.80px;font-size:27px;font-weight:400;transform:scaleX(0.9139);">VR</span>
<span class="t" style="left:1128.62px;top:1389.80px;font-size:27px;font-weight:700;color:#3b82f6;transform:scaleX(1.0400);">24,5</span>
<span class="t" style="left:1246.23px;top:1396.80px;font-size:18px;font-weight:700;transform:scaleX(1.1700);">-0,9</span>
<span class="t" style="left:1338.80px;top:1389.80px;font-size:27px;font-weight:700;transform:scaleX(1.0400);">55</span>
<span class="t" style="left:1437.90px;top:1389.80px;font-size:27px;font-weight:700;transform:scaleX(1.0400);">2236</span>
<span class="t" style="left:1552.20px;top:1396.80px;font-size:18px;font-weight:700;transform:scaleX(1.1200);"><span style="font-weight:400">+</span> 11</span>
<span class="t" style="left:1651.20px;top:1389.80px;font-size:27px;font-weight:700;transform:scaleX(1.0400);">995</span>
<span class="t" style="left:1786.30px;top:1389.80px;font-size:27px;font-weight:700;transform:scaleX(1.0400);">58</span>
<span class="t" style="left:1881.40px;top:1396.80px;font-size:18px;font-weight:700;transform:scaleX(1.1200);"><span style="font-weight:400">+</span> 0</span>
<span class="t" style="left:980.90px;top:1449.90px;font-size:27px;font-weight:400;transform:scaleX(0.9491);">HRO</span>
<span class="t" style="left:1127.58px;top:1449.90px;font-size:27px;font-weight:700;color:#3b82f6;transform:scaleX(1.0400);">24,4</span>
<span class="t" style="left:1259.10px;top:1456.90px;font-size:18px;font-weight:700;transform:scaleX(1.1700);"><span style="font-weight:400">±</span>0</span>
<span class="t" style="left:1338.80px;top:1449.90px;font-size:27px;font-weight:700;transform:scaleX(1.0400);">51</span>
<span class="t" style="left:1437.90px;top:1449.90px;font-size:27px;font-weight:700;transform:scaleX(1.0400);">1585</span>
<span class="t" style="left:1563.40px;top:1456.90px;font-size:18px;font-weight:700;transform:scaleX(1.1200);"><span style="font-weight:400">+</span> 5</span>
<span class="t" style="left:1651.20px;top:1449.90px;font-size:27px;font-weight:700;transform:scaleX(1.0400);">758</span>
<span class="t" style="left:1787.34px;top:1449.90px;font-size:27px;font-weight:700;transform:scaleX(1.0400);">27</span>
<span class="t" style="left:1881.40px;top:1456.90px;font-size:18px;font-weight:700;transform:scaleX(1.1200);"><span style="font-weight:400">+</span> 0</span>
<span class="t" style="left:981.89px;top:1510.00px;font-size:27px;font-weight:400;transform:scaleX(0.9114);">SN</span>
<span class="t" style="left:1128.62px;top:1510.00px;font-size:27px;font-weight:700;color:#3b82f6;transform:scaleX(1.0400);">76,3</span>
<span class="t" style="left:1240.38px;top:1517.00px;font-size:18px;font-weight:700;transform:scaleX(1.1700);">+3,1</span>
<span class="t" style="left:1338.80px;top:1510.00px;font-size:27px;font-weight:700;transform:scaleX(1.0400);">73</span>
<span class="t" style="left:1438.94px;top:1510.00px;font-size:27px;font-weight:700;transform:scaleX(1.0400);">1759</span>
<span class="t" style="left:1563.40px;top:1517.00px;font-size:18px;font-weight:700;transform:scaleX(1.1200);"><span style="font-weight:400">+</span> 7</span>
<span class="t" style="left:1636.64px;top:1510.00px;font-size:27px;font-weight:700;transform:scaleX(1.0400);">1839</span>
<span class="t" style="left:1787.34px;top:1510.00px;font-size:27px;font-weight:700;transform:scaleX(1.0400);">90</span>
<span class="t" style="left:1881.40px;top:1517.00px;font-size:18px;font-weight:700;transform:scaleX(1.1200);"><span style="font-weight:400">+</span> 0</span>
<span class="t" style="left:981.70px;top:1570.10px;font-size:27px;font-weight:700;transform:scaleX(1.1041);">M-V</span>
<span class="t" style="left:1128.62px;top:1570.10px;font-size:27px;font-weight:700;color:#3b82f6;transform:scaleX(1.0400);">66,1</span>
<span class="t" style="left:1246.23px;top:1577.10px;font-size:18px;font-weight:700;transform:scaleX(1.1700);">-1,9</span>
<span class="t" style="left:1307.60px;top:1570.10px;font-size:27px;font-weight:700;transform:scaleX(1.0400);">1063</span>
<span class="t" style="left:1423.34px;top:1570.10px;font-size:27px;font-weight:700;transform:scaleX(1.0400);">25762</span>
<span class="t" style="left:1552.20px;top:1577.10px;font-size:18px;font-weight:700;transform:scaleX(1.1200);"><span style="font-weight:400">+</span> 60</span>
<span class="t" style="left:1636.64px;top:1570.10px;font-size:27px;font-weight:700;transform:scaleX(1.0400);">1602</span>
<span class="t" style="left:1770.70px;top:1570.10px;font-size:27px;font-weight:700;transform:scaleX(1.0400);">785</span>
<span class="t" style="left:1881.40px;top:1577.10px;font-size:18px;font-weight:700;transform:scaleX(1.1200);"><span style="font-weight:400">+</span> 9</span>
</body></html>
